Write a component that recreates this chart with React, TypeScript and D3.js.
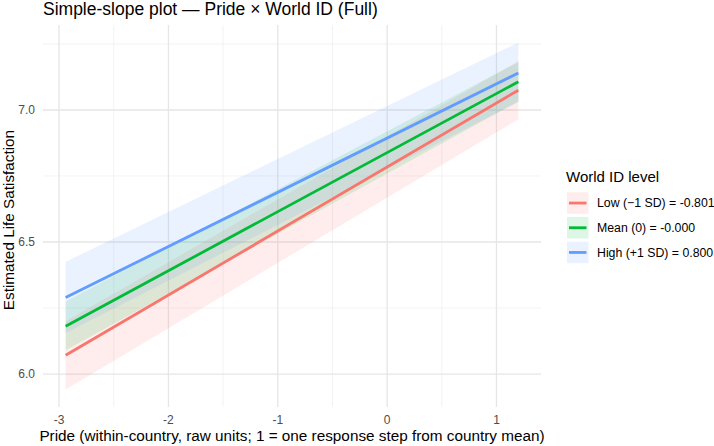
import React from "react";
import * as d3 from "d3";

const W = 714;
const H = 446;

const xs = [-2.94, 1.2];
const seriesNames = ["Low (\u22121 SD) = -0.801", "Mean (0) = -0.000", "High (+1 SD) = 0.800"];
const colors = ["#F8766D", "#00BA38", "#619CFF"];
const lowFit = [6.071, 7.075];
const lowLo = [5.941, 6.965];
const lowHi = [6.20, 7.185];
const meanFit = [6.181, 7.107];
const meanLo = [6.09, 7.032];
const meanHi = [6.275, 7.182];
const highFit = [6.29, 7.14];
const highLo = [6.155, 7.03];
const highHi = [6.425, 7.256];
const xTicks = [-3, -2, -1, 0, 1];
const xMinor = [-2.5, -1.5, -0.5, 0.5];
const yTicks = [6.0, 6.5, 7.0];
const yMinor = [6.25, 6.75, 7.25];

export default function App() {
  const left = 43, right = 541, top = 25, bottom = 407;
  const x = d3.scaleLinear().domain([-3.147, 1.407]).range([left, right]);
  const y = d3.scaleLinear().domain([5.8752, 7.3218]).range([bottom, top]);
  const fits = [lowFit, meanFit, highFit];
  const los = [lowLo, meanLo, highLo];
  const his = [lowHi, meanHi, highHi];
  const mkArea = (k: number) =>
    d3.area<number>().x((_, i) => x(xs[i])).y0((_, i) => y(los[k][i])).y1((_, i) => y(his[k][i]))(xs) || "";
  const mkLine = (k: number) =>
    d3.line<number>().x((_, i) => x(xs[i])).y((_, i) => y(fits[k][i]))(xs) || "";
  const font = "Liberation Sans, Arial, Helvetica, sans-serif";
  const legX = 566, legY0 = 192.3, keyH = 24.7;
  return (
    <svg width={W} height={H} style={{ position: "absolute", left: 0, top: 0 }} fontFamily={font}>
      <rect width={W} height={H} fill="#fff" />
      {yMinor.map((t) => (
        <line key={"ym" + t} x1={left} x2={right} y1={y(t)} y2={y(t)} stroke="#EEEEEE" strokeWidth={0.7} />
      ))}
      {xMinor.map((t) => (
        <line key={"xm" + t} x1={x(t)} x2={x(t)} y1={top} y2={bottom} stroke="#EEEEEE" strokeWidth={0.7} />
      ))}
      {yTicks.map((t) => (
        <line key={"y" + t} x1={left} x2={right} y1={y(t)} y2={y(t)} stroke="#E6E6E6" strokeWidth={1.3} />
      ))}
      {xTicks.map((t) => (
        <line key={"x" + t} x1={x(t)} x2={x(t)} y1={top} y2={bottom} stroke="#E6E6E6" strokeWidth={1.3} />
      ))}
      {[0, 1, 2].map((k) => (
        <path key={"a" + k} d={mkArea(k)} fill={colors[k]} fillOpacity={0.13} />
      ))}
      {[0, 1, 2].map((k) => (
        <path key={"l" + k} d={mkLine(k)} fill="none" stroke={colors[k]} strokeWidth={2.8} />
      ))}
      {yTicks.map((t) => (
        <text key={"yl" + t} x={35} y={y(t)} dy="0.35em" textAnchor="end" fontSize={12} fill="#4D4D4D">
          {t.toFixed(1)}
        </text>
      ))}
      {xTicks.map((t) => (
        <text key={"xl" + t} x={x(t)} y={424} textAnchor="middle" fontSize={12} fill="#4D4D4D">
          {t}
        </text>
      ))}
      <text x={(left + right) / 2} y={441} textAnchor="middle" fontSize={15.3} fill="#000">
        Pride (within-country, raw units; 1 = one response step from country mean)
      </text>
      <text transform={`translate(13.5,${(top + bottom) / 2 + 4}) rotate(-90)`} textAnchor="middle" fontSize={15.3} fill="#000">
        Estimated Life Satisfaction
      </text>
      <text x={43} y={15} fontSize={17.5} fill="#000">
        Simple-slope plot — Pride × World ID (Full)
      </text>
      <text x={legX} y={182} fontSize={15} fill="#000">World ID level</text>
      {[0, 1, 2].map((k) => {
        const cy = legY0 + k * keyH;
        return (
          <g key={"lg" + k}>
            <rect x={legX + 1} y={cy} width={21.5} height={21.5} fill={colors[k]} fillOpacity={0.13} />
            <line x1={legX + 3} x2={legX + 20.5} y1={cy + 10.75} y2={cy + 10.75} stroke={colors[k]} strokeWidth={2.8} />
            <text x={597} y={cy + 10.75} dy="0.35em" fontSize={12.3} fill="#000">
              {seriesNames[k]}
            </text>
          </g>
        );
      })}
    </svg>
  );
}
